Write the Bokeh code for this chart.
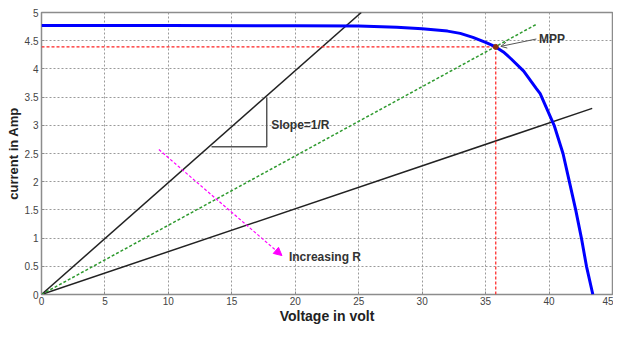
from bokeh.plotting import figure
from bokeh.models import Arrow, NormalHead, OpenHead, Label, Range1d, FixedTicker
from bokeh.embed import file_html
from bokeh.resources import INLINE

# ---- data ----
pv_v = [0, 10, 20, 25, 28, 30, 32, 33, 34, 35, 35.8, 36.4, 37, 38, 39, 39.3, 40.4, 41.1, 41.6, 42.1, 42.55, 42.95, 43.45]
pv_i = [4.77, 4.77, 4.765, 4.76, 4.74, 4.71, 4.67, 4.63, 4.56, 4.47, 4.39, 4.30, 4.18, 3.96, 3.65, 3.56, 3.0, 2.5, 2.0, 1.5, 1.0, 0.5, 0.0]

load_low_v = [0, 25.2]      # small R (steep load line)
load_low_i = [0, 5.0]
load_opt_v = [0, 39.0]      # optimum load line through MPP
load_opt_i = [0, 4.79]
load_high_v = [0, 43.4]     # large R
load_high_i = [0, 3.30]

mpp_v = 35.8
mpp_i = 4.39

slope_tri_v = [13.4, 17.75, 17.75]
slope_tri_i = [2.62, 2.62, 3.49]

incr_arrow_v = [9.25, 18.95]
incr_arrow_i = [2.57, 0.69]

mpp_arrow_v = [39.0, 36.2]
mpp_arrow_i = [4.53, 4.40]

x_ticks = [0, 5, 10, 15, 20, 25, 30, 35, 40, 45]
y_ticks = [0, 0.5, 1, 1.5, 2, 2.5, 3, 3.5, 4, 4.5, 5]

FONT = "Liberation Sans"

p = figure(width=613, height=326, output_backend="svg", toolbar_location=None,
           x_range=Range1d(0, 45), y_range=Range1d(0, 5),
           min_border_left=41, min_border_right=1, min_border_top=12, min_border_bottom=29)
p.background_fill_color = "white"
p.border_fill_color = "white"
p.outline_line_color = "#8c8c8c"
p.outline_line_width = 1.5

p.xaxis.ticker = FixedTicker(ticks=x_ticks)
p.yaxis.ticker = FixedTicker(ticks=y_ticks)
for ax in (p.xaxis[0], p.yaxis[0]):
    ax.axis_line_color = None
    ax.major_tick_in = 3
    ax.major_tick_out = 0
    ax.major_tick_line_color = "#8c8c8c"
    ax.minor_tick_line_color = None
    ax.major_label_text_font = FONT
    ax.major_label_text_font_size = "10px"
    ax.major_label_text_color = "#444444"
    ax.axis_label_text_font = FONT
    ax.axis_label_text_font_style = "bold"
    ax.axis_label_text_color = "#222222"
p.xaxis.axis_label = "Voltage in volt"
p.yaxis.axis_label = "current in Amp"
p.xaxis.axis_label_text_font_size = "14px"
p.yaxis.axis_label_text_font_size = "13px"
p.xaxis.major_label_standoff = 2
p.yaxis.major_label_standoff = 3
p.xaxis.axis_label_standoff = 0
p.yaxis.axis_label_standoff = 1

for g in (p.xgrid[0], p.ygrid[0]):
    g.grid_line_color = "#9a9a9a"
    g.grid_line_dash = "2 2"
    g.grid_line_width = 1

# load lines
p.line(load_low_v, load_low_i, line_color="#222222", line_width=1.5)
p.line(load_high_v, load_high_i, line_color="#222222", line_width=1.5)
p.line(load_opt_v, load_opt_i, line_color="#2e9a2e", line_width=1.5, line_dash="3 2")

# MPP reference lines
p.line([0, mpp_v], [mpp_i, mpp_i], line_color="#ff2020", line_width=1.2, line_dash="3 2")
p.line([mpp_v, mpp_v], [0, mpp_i], line_color="#ff2020", line_width=1.2, line_dash="3 2")

# I-V curve
p.line(pv_v, pv_i, line_color="#0000ff", line_width=3)

# MPP point
p.scatter([mpp_v], [mpp_i], size=5, fill_color="#8a3010", line_color="#8a3010")

# slope triangle
p.line(slope_tri_v, slope_tri_i, line_color="#555555", line_width=1.5)

# increasing R arrow
p.add_layout(Arrow(x_start=incr_arrow_v[0], y_start=incr_arrow_i[0],
                   x_end=incr_arrow_v[1], y_end=incr_arrow_i[1],
                   line_color="#ff00ff", line_width=1.2, line_dash="3 2",
                   end=NormalHead(size=8, fill_color="#ff00ff", line_color="#ff00ff")))

# MPP arrow
p.add_layout(Arrow(x_start=mpp_arrow_v[0], y_start=mpp_arrow_i[0],
                   x_end=mpp_arrow_v[1], y_end=mpp_arrow_i[1],
                   line_color="#555555", line_width=1,
                   end=OpenHead(size=6, line_color="#555555", line_width=1)))

lab_kw = dict(text_font=FONT, text_font_size="12px", text_font_style="bold",
              text_color="#333333", text_baseline="middle")
p.add_layout(Label(x=18.1, y=3.0, text="Slope=1/R", **lab_kw))
p.add_layout(Label(x=19.5, y=0.66, text="Increasing R", **lab_kw))
p.add_layout(Label(x=39.2, y=4.53, text="MPP", **lab_kw))

open("out.html", "w").write(file_html(p, INLINE))
